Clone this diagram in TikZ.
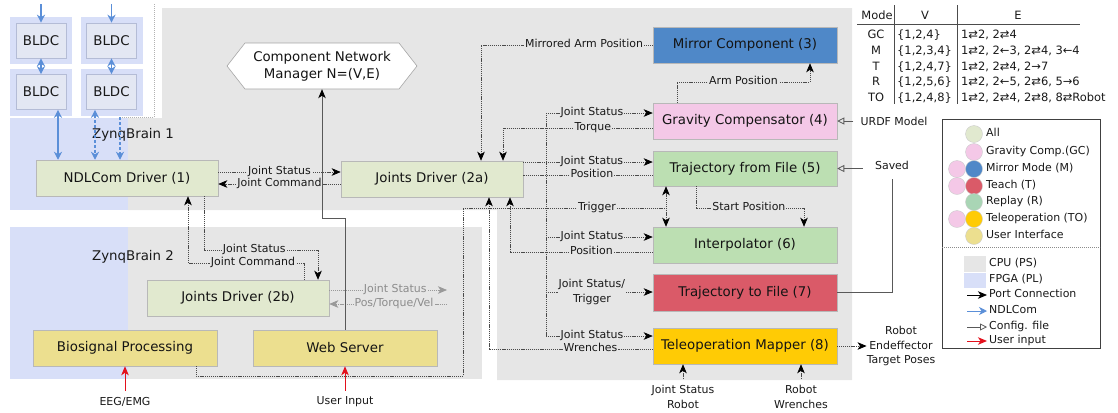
\documentclass[tikz,border=0pt]{standalone}
\usepackage{fontspec}
\setmainfont{DejaVu Sans}
\usetikzlibrary{arrows.meta,calc}

\definecolor{cpu}{HTML}{E6E6E6}
\definecolor{fpga}{HTML}{D8DFF8}
\definecolor{bldcin}{HTML}{E3E7F3}
\definecolor{bldcline}{HTML}{B4BCD6}
\definecolor{drv}{HTML}{E1E9CF}
\definecolor{ui}{HTML}{ECDF8F}
\definecolor{mirror}{HTML}{4F88C8}
\definecolor{grav}{HTML}{F4C8E7}
\definecolor{traj}{HTML}{BCDFB2}
\definecolor{rec}{HTML}{DA5A68}
\definecolor{tele}{HTML}{FFCB05}
\definecolor{replay}{HTML}{A9D5B5}
\definecolor{ndlblue}{HTML}{5B8FD8}
\definecolor{userred}{HTML}{E3101C}
\definecolor{wire}{HTML}{4A4A4A}

\newcommand\compfont{\fontsize{13.4}{17}\selectfont}
\newcommand\wirefont{\fontsize{11}{14.5}\selectfont}
\newcommand\tabfont{\fontsize{11.5}{14}\selectfont}

\begin{document}
\begin{tikzpicture}[x=1bp,y=-1bp,
  >={Stealth[length=9bp,width=7.5bp,inset=2.5bp]},
  comp/.style={draw=black!28, line width=0.5bp, minimum height=36bp,
    minimum width=184bp, font=\compfont, text=black!92, inner sep=2bp},
  bldc/.style={draw=bldcline, fill=bldcin, line width=0.6bp,
    minimum width=50bp, minimum height=35bp, font=\compfont, text=black!90,
    preaction={draw=fpga, line width=12bp}},
  link/.style={draw=wire, line width=0.7bp, dash pattern=on 1.1bp off 0.8bp,
    >={Stealth[length=9bp,width=7.5bp,inset=2.5bp,black]}},
  dim/.style={draw=black!40, line width=0.7bp, dash pattern=on 1.1bp off 0.8bp},
  wireline/.style={draw=black!65, line width=0.9bp,
    >={Stealth[length=9bp,width=7.5bp,inset=2.5bp,black]}},
  ndl/.style={draw=ndlblue, line width=1.3bp,
    >={Stealth[length=8bp,width=8bp,inset=2.5bp]}},
  user/.style={draw=userred, line width=1bp},
  conf/.style={draw=black!65, line width=0.8bp,
    -{Triangle[open,length=7bp,width=7bp]}},
  lab/.style={fill=cpu, inner sep=1bp, font=\wirefont, text=black!90,
    text height=8bp, text depth=2.5bp},
  lab2/.style={fill=cpu, inner sep=1bp, font=\wirefont, text=black!90,
    align=center},
  txt/.style={inner sep=0bp, font=\wirefont, text=black!90, align=center},
  legtxt/.style={anchor=west, inner sep=0bp, font=\wirefont, text=black!90,
    text height=8bp, text depth=2.5bp},
  tab/.style={inner sep=0bp, font=\tabfont, text=black!90,
    text height=8.5bp, text depth=2.5bp},
  dot/.style={circle, minimum size=17bp, inner sep=0bp, draw=black!20,
    line width=0.4bp}
]
\useasboundingbox (0,0) rectangle (1118,412);

% ---------- processing system / programmable logic areas ----------
\fill[cpu] (162,8) -- (852,8) -- (852,380) -- (497,380) -- (497,210)
  -- (128,210) -- (128,118) -- (162,118) -- cycle;
\fill[fpga] (10,118) rectangle (128,210);
\fill[fpga] (10,227) rectangle (128,379);
\fill[cpu] (128,227) rectangle (482,379);
\draw[black!30, dash pattern=on 1bp off 1bp] (154,4) -- (154,117) -- (120,117);

\node[font=\compfont, text=black!90] (zb1) at (133,135) {ZynqBrain 1};
\node[font=\compfont, text=black!90] (zb2) at (133,257) {ZynqBrain 2};

% ---------- motor controllers ----------
\node[bldc] (b11) at (41,40.5) {BLDC};
\node[bldc] (b12) at (111.5,40.5) {BLDC};
\node[bldc] (b21) at (41,92) {BLDC};
\node[bldc] (b22) at (111.5,92) {BLDC};

% ---------- components ----------
\node[comp, fill=drv, minimum width=182bp] (ndl) at (127,178) {NDLCom Driver (1)};
\node[comp, fill=drv, minimum width=182bp] (jda) at (432,179) {Joints Driver (2a)};
\node[comp, fill=drv, minimum width=182bp] (jdb) at (238,298) {Joints Driver (2b)};
\node[comp, fill=ui] (bio) at (125,348) {Biosignal Processing};
\node[comp, fill=ui] (web) at (345,348) {Web Server};
\node[comp, fill=mirror] (mir) at (745,45) {Mirror Component (3)};
\node[comp, fill=grav] (grav) at (745,121) {Gravity Compensator (4)};
\node[comp, fill=traj, minimum height=35bp] (tff) at (745,168.5) {Trajectory from File (5)};
\node[comp, fill=traj] (ipl) at (745,245) {Interpolator (6)};
\node[comp, fill=rec, minimum height=37bp] (ttf) at (745,292.5) {Trajectory to File (7)};
\node[comp, fill=tele] (tel) at (745,346) {Teleoperation Mapper (8)};

% component network manager (hexagon)
\filldraw[fill=white, draw=black!35, line width=0.6bp]
  (227,66) -- (245,43) -- (399,43) -- (417,66) -- (399,89) -- (245,89) -- cycle;
\node[font=\compfont, text=black!92, align=center, minimum height=46bp,
  inner sep=0bp] (cnm) at (322,66) {Component Network\\Manager N=(V,E)};

% ---------- NDLCom links ----------
\coordinate (top1) at (41,4);
\coordinate (top2) at (111.5,4);
\coordinate (ext) at (120,117);
\draw[ndl,->] (top1) -- (b11.north);
\draw[ndl,->] (top2) -- (b12.north);
\draw[ndl,<->] (b11.south) -- (b21.north);
\draw[ndl,<->] (b12.south) -- (b22.north);
\draw[ndl,<->] (b21.south -| 58,0) -- (ndl.north -| 58,0);
\draw[ndl,<->,dash pattern=on 3bp off 2bp] (b22.south -| 95,0) -- (ndl.north -| 95,0);
\draw[ndl,->,dash pattern=on 3bp off 2bp] (ext) -- (ndl.north -| ext);

% ---------- port connections ----------
\draw[link,->] (ndl.east |- 0,172) -- node[lab]{Joint Status} (jda.west |- 0,172);
\draw[link,->] (jda.west |- 0,184) -- node[lab]{Joint Command} (ndl.east |- 0,184);

\draw[link,->] (ndl.south -| 204,0) -- (204,250)
  -- node[lab,pos=0.44]{Joint Status} (318,250) -- (jdb.north -| 318,0);
\draw[link,->] (jdb.north -| 304,0) -- (304,263)
  -- node[lab,pos=0.44]{Joint Command} (188,263) -- (ndl.south -| 188,0);

\coordinate (jsout) at (447,290);
\coordinate (ptvin) at (447,304);
\draw[dim,->] (jdb.east |- jsout) -- node[lab,text=black!45,pos=0.56]{Joint Status} (jsout);
\draw[dim,->] (ptvin) -- node[lab,text=black!45,pos=0.45]{Pos/Torque/Vel} (jdb.east |- ptvin);

% biosignal trigger
\draw[link] (bio.south -| 196,0) -- (196,376) -- (463,376) -- (463,208)
  -- node[lab,pos=0.66]{Trigger} (666,208);
\draw[link,<->] (tff.south -| 666,0) -- (ipl.north -| 666,0);

% towards the joints driver (2a)
\draw[link,->] (mir.west) -- node[lab,pos=0.4]{Mirrored Arm Position} (481,45)
  -- (jda.north -| 481,0);
\draw[link,->] (grav.west |- 0,128) -- node[lab,pos=0.4]{Torque} (503,128)
  -- (jda.north -| 503,0);
\draw[link] (tff.west |- 0,175) -- node[lab,pos=0.47]{Position} (jda.east |- 0,175);
\draw[link,->] (ipl.west |- 0,252) -- node[lab,pos=0.43]{Position} (510,252)
  -- (jda.south -| 510,0);
\draw[link,->] (tel.west |- 0,349) -- node[lab,pos=0.38]{Wrenches} (489,349)
  -- (jda.south -| 489,0);

% joint status distribution
\coordinate (bus) at (546,162);
\draw[link,->] (jda.east |- bus) -- node[lab,pos=0.53]{Joint Status} (tff.west |- bus);
\draw[link] (546,113) -- (546,336);
\draw[link,->] (546,113) -- node[lab,pos=0.43]{Joint Status} (grav.west |- 0,113);
\draw[link,->] (546,237) -- node[lab,pos=0.43]{Joint Status} (ipl.west |- 0,237);
\draw[link,->] (546,292) -- node[lab2,pos=0.43]{Joint Status/\\Trigger} (ttf.west |- 0,292);
\draw[link,->] (546,336) -- node[lab,pos=0.43]{Joint Status} (tel.west |- 0,336);

% between components
\draw[link,->] (tff.south -| 696,0) -- (696,208)
  -- node[lab,pos=0.49]{Start Position} (804,208) -- (ipl.north -| 804,0);
\draw[link,->] (grav.north -| 677,0) -- (677,82)
  -- node[lab,pos=0.5]{Arm Position} (810,82) -- (mir.south -| 810,0);

% web server to network manager
\draw[wireline,->] (web.north) -- (web.north |- 0,218) -- (cnm.south |- 0,218) -- (cnm.south);

% configuration files
\node[txt] (urdf) at (894,121) {URDF Model};
\draw[conf, shorten <=7bp] (urdf.west) -- (grav.east);
\node[txt] (saved) at (892,165) {Saved};
\draw[black!65, line width=0.8bp, shorten >=10bp] (ttf.east) -| (saved.south);
\draw[conf, shorten <=12bp] (saved.west |- tff.east) -- (tff.east);

% robot side
\node[txt] (ee) at (901,346) {Robot\\Endeffector\\Target Poses};
\draw[link,->] (tel.east) -- (ee.west);
\node[txt] (jsr) at (683,397) {Joint Status\\Robot};
\node[txt] (rw) at (801,397) {Robot\\Wrenches};
\draw[link,->] ([yshift=6bp]jsr.north) -- (tel.south -| jsr.north);
\draw[link,->] ([yshift=6bp]rw.north) -- (tel.south -| rw.north);

% user inputs
\node[txt] (eeg) at (125,402) {EEG/EMG};
\node[txt] (uin) at (345,402) {User Input};
\draw[user,->] ([yshift=6bp]eeg.north) -- (bio.south -| eeg.north);
\draw[user,->] ([yshift=6bp]uin.north) -- (web.south -| uin.north);

% ---------- mode table ----------
\node[tab] at (877,16) {Mode};
\node[tab] at (925,16) {V};
\node[tab] at (1018,16) {E};
\draw[black!70, line width=0.6bp] (857,24.5) -- (1080,24.5);
\draw[black!70, line width=0.6bp] (894,5) -- (894,104);
\draw[black!70, line width=0.6bp] (957,5) -- (957,104);

\node[tab] at (876,35) {GC};
\node[tab,anchor=west] at (897,35) {\{1,2,4\}};
\node[tab,anchor=west] at (961,35) {1⇄2, 2⇄4};
\node[tab] at (876,51) {M};
\node[tab,anchor=west] at (897,51) {\{1,2,3,4\}};
\node[tab,anchor=west] at (961,51) {1⇄2, 2←3, 2⇄4, 3←4};
\node[tab] at (876,67) {T};
\node[tab,anchor=west] at (897,67) {\{1,2,4,7\}};
\node[tab,anchor=west] at (961,67) {1⇄2, 2⇄4, 2→7};
\node[tab] at (876,82) {R};
\node[tab,anchor=west] at (897,82) {\{1,2,5,6\}};
\node[tab,anchor=west] at (961,82) {1⇄2, 2←5, 2⇄6, 5→6};
\node[tab] at (876,98) {TO};
\node[tab,anchor=west] at (897,98) {\{1,2,4,8\}};
\node[tab,anchor=west] at (961,98) {1⇄2, 2⇄4, 2⇄8, 8⇄Robot};

% ---------- legend ----------
\draw[black!75, line width=0.6bp] (942,119) rectangle (1100,348);
\draw[black!45, dash pattern=on 1bp off 1bp] (942,247) -- (1100,247);

\node[dot, fill=drv] (cAll) at (974,134) {};
\node[dot, fill=grav] (cGC) at (974,152) {};
\node[dot, fill=grav] (cM1) at (957,169) {};
\node[dot, fill=mirror] (cM2) at (974,169) {};
\node[dot, fill=grav] (cT1) at (957,186) {};
\node[dot, fill=rec] (cT2) at (974,186) {};
\node[dot, fill=replay] (cR) at (974,202) {};
\node[dot, fill=grav] (cTO1) at (957,219) {};
\node[dot, fill=tele] (cTO2) at (974,219) {};
\node[dot, fill=ui] (cUI) at (974,236) {};
\node[legtxt] at (986,134) {All};
\node[legtxt] at (986,152) {Gravity Comp.(GC)};
\node[legtxt] at (986,169) {Mirror Mode (M)};
\node[legtxt] at (986,186) {Teach (T)};
\node[legtxt] at (986,202) {Replay (R)};
\node[legtxt] at (986,219) {Teleoperation (TO)};
\node[legtxt] at (986,236) {User Interface};

\fill[cpu] (964,256) rectangle (986,272);
\fill[fpga] (964,273) rectangle (986,288);
\node[legtxt] at (989,264) {CPU (PS)};
\node[legtxt] at (989,280) {FPGA (PL)};
\node[legtxt] (lport) at (989,295) {Port Connection};
\node[legtxt] (lndl) at (989,311) {NDLCom};
\node[legtxt] (lconf) at (989,327) {Config. file};
\node[legtxt] (luser) at (989,341) {User input};
\draw[black, line width=0.8bp, ->] ([xshift=-22bp]lport.west) -- ([xshift=-2bp]lport.west);
\draw[ndl, line width=0.9bp, ->] ([xshift=-22bp]lndl.west) -- ([xshift=-2bp]lndl.west);
\draw[conf] ([xshift=-22bp]lconf.west) -- ([xshift=-2bp]lconf.west);
\draw[user, ->] ([xshift=-22bp]luser.west) -- ([xshift=-2bp]luser.west);
\end{tikzpicture}
\end{document}
